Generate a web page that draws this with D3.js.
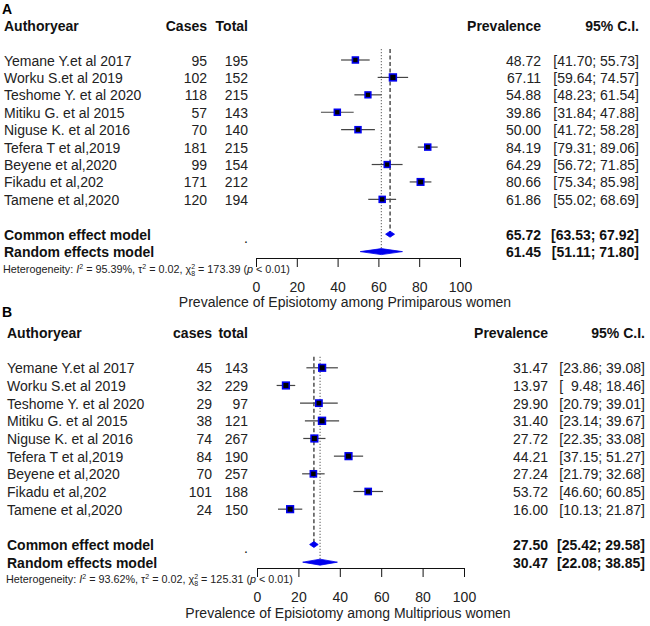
<!DOCTYPE html>
<html><head><meta charset="utf-8">
<script src="https://cdn.jsdelivr.net/npm/d3@7/dist/d3.min.js"></script>
<style>
body{margin:0;background:#fff;}
svg{display:block;font-family:"Liberation Sans",Arial,sans-serif;}
</style></head>
<body>
<svg id="chart" width="650" height="626"></svg>
<script>
// ---------- DATA ----------
const studies = ["Yemane Y.et al 2017","Worku S.et al 2019","Teshome Y. et al 2020","Mitiku G. et al 2015",
  "Niguse K. et al 2016","Tefera T et al,2019","Beyene et al,2020","Fikadu et al,202","Tamene et al,2020"];
const tickValues = [0,20,40,60,80,100];

// Panel A – primiparous
const casesA = [95,102,118,57,70,181,99,171,120];
const totalA = [195,152,215,143,140,215,154,212,194];
const prevA  = [48.72,67.11,54.88,39.86,50.00,84.19,64.29,80.66,61.86];
const lowerA = [41.70,59.64,48.23,31.84,41.72,79.31,56.72,75.34,55.02];
const upperA = [55.73,74.57,61.54,47.88,58.28,89.06,71.85,85.98,68.69];
const weightA = [11.0,12.0,10.8,11.0,11.0,11.0,10.8,11.6,11.0];
const commonA = [65.72,63.53,67.92];
const randomA = [61.45,51.11,71.80];
const heteroA = ["95.39%","0.02","8","173.39","< 0.01"];

// Panel B – multiparous
const casesB = [45,32,29,38,74,84,70,101,24];
const totalB = [143,229,97,121,267,190,257,188,150];
const prevB  = [31.47,13.97,29.90,31.40,27.72,44.21,27.24,53.72,16.00];
const lowerB = [23.86,9.48,20.79,23.14,22.35,37.15,21.79,46.60,10.13];
const upperB = [39.08,18.46,39.01,39.67,33.08,51.27,32.68,60.85,21.87];
const weightB = [11.8,11.8,11.4,12.0,11.8,11.8,11.2,11.2,11.8];
const commonB = [27.50,25.42,29.58];
const randomB = [30.47,22.08,38.85];
const heteroB = ["93.62%","0.02","8","125.31","< 0.01"];

// ---------- DRAW ----------
const svg = d3.select("#chart");
const txt = "#222";
const sizeScale = d3.scaleLinear().domain([10,12]).range([6.6,8.4]);
const f2 = d3.format(".2f");
const ciStr = (l,u) => "[" + (l<10 ? "\u2007" : "") + f2(l) + "; " + f2(u) + "]";

function panel(o){
  const g = svg.append("g");
  const x = d3.scaleLinear().domain([0,100]).range(o.xr);
  const base = i => o.b0 + o.step*i;
  const mid = i => base(i) - 5.5;

  g.append("text").attr("x",2).attr("y",o.letterY).attr("font-size",14).attr("font-weight","bold")
    .attr("fill","#000").text(o.letter);

  // headers
  const hy = base(-2);
  const hdr = (t,xx,anchor) => g.append("text").attr("x",xx).attr("y",hy).attr("font-size",14)
    .attr("font-weight","bold").attr("fill","#111").attr("text-anchor",anchor).text(t);
  hdr("Authoryear",o.nameX,"start");
  hdr(o.casesH,o.casesR,"end");
  hdr(o.totalH,o.totalR,"end");
  hdr("Prevalence",o.prevR,"end");
  hdr("95% C.I.",o.ciR,"end");

  // study rows text
  studies.forEach((s,i)=>{
    const y = base(i);
    const t = (v,xx,anchor) => g.append("text").attr("x",xx).attr("y",y).attr("font-size",14)
      .attr("fill",txt).attr("text-anchor",anchor).text(v);
    t(s,o.nameX,"start");
    t(o.cases[i],o.casesR,"end");
    t(o.total[i],o.totalR,"end");
    t(f2(o.prev[i]),o.prevR,"end");
    t(ciStr(o.lower[i],o.upper[i]),o.ciR,"end").attr("xml:space","preserve");
  });

  // summary rows
  const sums = [["Common effect model",o.common,10],["Random effects model",o.random,11]];
  sums.forEach(([lab,v,i])=>{
    const y = base(i);
    const t = (val,xx,anchor) => g.append("text").attr("x",xx).attr("y",y).attr("font-size",14)
      .attr("font-weight","bold").attr("fill","#111").attr("text-anchor",anchor).text(val);
    t(lab,o.nameX,"start");
    t(f2(v[0]),o.prevR,"end");
    t(ciStr(v[1],v[2]),o.ciR,"end");
  });
  g.append("text").attr("x",o.totalR).attr("y",base(10)+3).attr("font-size",14)
    .attr("fill","#111").attr("text-anchor","end").text(".");

  // reference lines
  const top = mid(0) - 11;
  g.append("line").attr("x1",x(o.random[0])).attr("x2",x(o.random[0])).attr("y1",top).attr("y2",mid(11))
    .attr("stroke","#777").attr("stroke-width",1.2).attr("stroke-dasharray","1.2,1.8");
  g.append("line").attr("x1",x(o.common[0])).attr("x2",x(o.common[0])).attr("y1",top).attr("y2",mid(10))
    .attr("stroke","#222").attr("stroke-width",1.2).attr("stroke-dasharray","4,2.5");

  // whiskers + squares
  studies.forEach((s,i)=>{
    const y = mid(i);
    g.append("line").attr("x1",x(o.lower[i])).attr("x2",x(o.upper[i])).attr("y1",y).attr("y2",y)
      .attr("stroke","#444").attr("stroke-width",1.2);
    const sz = sizeScale(o.weight[i]);
    g.append("rect").attr("x",x(o.prev[i])-sz/2).attr("y",y-sz/2).attr("width",sz).attr("height",sz)
      .attr("fill","#0000ee");
    const s2 = sz - 3.2;
    g.append("rect").attr("x",x(o.prev[i])-s2/2).attr("y",y-s2/2).attr("width",s2).attr("height",s2)
      .attr("fill","#000");
  });

  // diamonds
  [[o.common,10],[o.random,11]].forEach(([v,i])=>{
    const y = mid(i), h = 3;
    g.append("path").attr("d",`M${x(v[1])},${y}L${x(v[0])},${y-h}L${x(v[2])},${y}L${x(v[0])},${y+h}Z`)
      .attr("fill","#0000ee").attr("stroke","#0000ee").attr("stroke-width",0.8);
  });

  // axis
  const ax = g.append("g").attr("transform",`translate(0,${o.axisY})`)
    .call(d3.axisBottom(x).tickValues(tickValues).tickSize(9).tickSizeOuter(0).tickPadding(15).tickFormat(d3.format("d")));
  ax.select(".domain").attr("stroke","#111");
  ax.selectAll(".tick line").attr("stroke","#111");
  ax.selectAll(".tick text").attr("font-size",14).attr("font-family","Liberation Sans, Arial, sans-serif").attr("fill",txt);

  g.append("text").attr("x",o.titleX).attr("y",o.titleY).attr("font-size",14).attr("fill",txt)
    .attr("text-anchor","middle").text(o.title);

  // heterogeneity
  const h = o.hetero;
  const ht = g.append("text").attr("x",o.nameX-1).attr("y",o.heteroY).attr("font-size",10.8).attr("fill",txt);
  ht.append("tspan").text("Heterogeneity: ");
  ht.append("tspan").attr("font-style","italic").text("I");
  ht.append("tspan").attr("font-size",7).attr("dy",-4).text("2");
  ht.append("tspan").attr("dy",4).text(" = " + h[0] + ", \u03C4");
  ht.append("tspan").attr("font-size",7).attr("dy",-4).text("2");
  ht.append("tspan").attr("dy",4).text(" = " + h[1] + ", \u03C7");
  ht.append("tspan").attr("font-size",7).attr("dy",-4).text("2");
  ht.append("tspan").attr("font-size",7).attr("dx",-4).attr("dy",7).text(h[2]);
  ht.append("tspan").attr("dy",-3).text(" = " + h[3] + " (");
  ht.append("tspan").attr("font-style","italic").text("p");
  ht.append("tspan").text(" " + h[4] + ")");
}

panel({letter:"A",letterY:13.5,b0:65.5,step:17.42,xr:[256,460],axisY:258,titleX:345,titleY:307,heteroY:272.5,
  nameX:4,casesR:207,totalR:248,prevR:541,ciR:639,casesH:"Cases",totalH:"Total",
  cases:casesA,total:totalA,prev:prevA,lower:lowerA,upper:upperA,weight:weightA,common:commonA,random:randomA,
  hetero:heteroA,title:"Prevalence of Episiotomy among Primiparous women"});

panel({letter:"B",letterY:317,b0:373.3,step:17.67,xr:[257,464],axisY:568,titleX:348,titleY:618,heteroY:582.5,
  nameX:7,casesR:212,totalR:248,prevR:548,ciR:645,casesH:"cases",totalH:"total",
  cases:casesB,total:totalB,prev:prevB,lower:lowerB,upper:upperB,weight:weightB,common:commonB,random:randomB,
  hetero:heteroB,title:"Prevalence of Episiotomy among Multiprious women"});
</script>
</body></html>
